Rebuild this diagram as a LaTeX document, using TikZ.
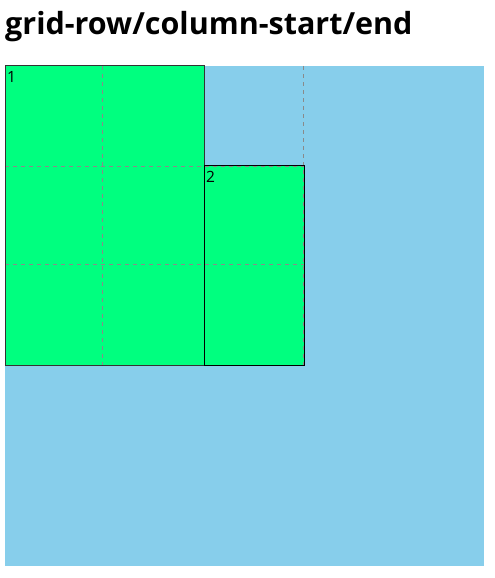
\documentclass[tikz,border=0pt]{standalone}
\usepackage{fontspec}
\setmainfont{Open Sans}
\definecolor{skyb}{HTML}{87CEEB}
\definecolor{sgreen}{HTML}{00FF7F}
\definecolor{gridgray}{HTML}{8A8A8A}
\definecolor{edge}{HTML}{333333}
\begin{document}
\begin{tikzpicture}[x=1pt,y=-1pt,
  gline/.style={draw=gridgray, line width=1pt, dash pattern=on 4pt off 4pt},
  num/.style={anchor=north west, inner sep=0pt, font=\fontsize{15.5}{18}\selectfont}]
\useasboundingbox (0,0) rectangle (495,578);
\node[anchor=base west, inner sep=0pt, font=\fontsize{30.5}{34}\bfseries\selectfont] (title) at (5,35) {grid-row/column-start/end};
\node[fill=skyb, anchor=north west, inner sep=0pt, minimum width=479pt, minimum height=500pt] (container) at (5,66) {};
\node[fill=sgreen, anchor=north west, inner sep=0pt, minimum width=199pt, minimum height=299pt] (one) at (5,66) {};
\node[fill=sgreen, anchor=north west, inner sep=0pt, minimum width=100pt, minimum height=200pt] (two) at (204,165.5) {};
\coordinate (v1t) at (102.5,66);
\coordinate (v1b) at (102.5,365);
\coordinate (v2t) at (303.5,66);
\coordinate (v2b) at (303.5,365);
\coordinate (h1l) at (5,166);
\coordinate (h1r) at (304,166);
\coordinate (h2l) at (5,264.5);
\coordinate (h2r) at (304,264.5);
\draw[gline] (v1t) -- (v1b);
\draw[gline] (v2t) -- (v2b);
\draw[gline] (h1l) -- (h1r);
\draw[gline] (h2l) -- (h2r);
\draw[edge, line width=1pt] (one.north west) rectangle (one.south east);
\draw[black, line width=1pt] (two.north west) rectangle (two.south east);
\node[num] (n1) at ([xshift=2pt,yshift=-5.5pt]one.north west) {1};
\node[num] (n2) at ([xshift=2pt,yshift=-5.5pt]two.north west) {2};
\end{tikzpicture}
\end{document}
